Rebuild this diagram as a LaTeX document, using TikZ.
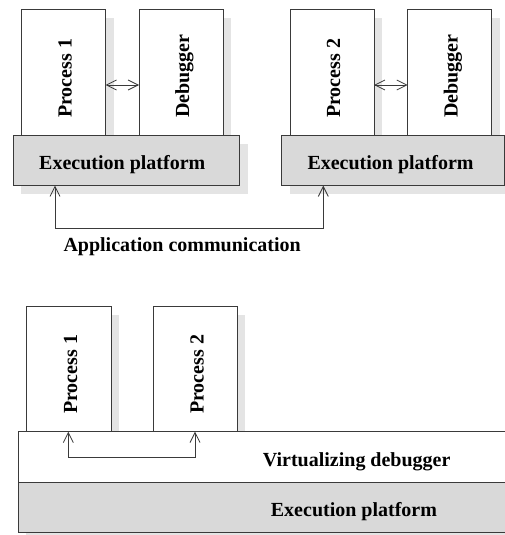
\documentclass[tikz,border=0pt]{standalone}
\usepackage{fontspec}
\setmainfont{Liberation Serif}
\usetikzlibrary{arrows.meta,shadows}
\definecolor{shadowc}{HTML}{E4E4E4}
\definecolor{platc}{HTML}{D9D9D9}
\definecolor{linec}{HTML}{3A3A3A}
\begin{document}
\begin{tikzpicture}[x=1pt,y=-1pt,
  boxbase/.style={draw=linec,line width=0.8pt,rectangle,inner sep=0pt,outer sep=0pt,
    drop shadow={shadow xshift=8pt,shadow yshift=-8.5pt,opacity=1,fill=shadowc,draw=none}},
  procbox/.style={boxbase,fill=white,minimum width=84pt,minimum height=125.7pt,anchor=south west},
  platbox/.style={boxbase,fill=platc,minimum height=50.6pt,anchor=north west},
  virtbox/.style={boxbase,fill=white,minimum height=50.6pt,anchor=north west},
  lbl/.style={font=\fontsize{20}{24}\selectfont\bfseries,inner sep=0pt,anchor=base west},
  vlbl/.style={lbl,rotate=90},
  conn/.style={draw=linec,line width=0.8pt,{Straight Barb[length=10pt,width=10pt]}-{Straight Barb[length=10pt,width=10pt]}}
]
\useasboundingbox (0,0) rectangle (505,535);
\clip (0,0) rectangle (505,535);

% ---------- top part ----------
\node[procbox] (p1) at (21.7,135) {};
\node[procbox] (d1) at (139,135) {};
\node[procbox] (p2) at (290,135) {};
\node[procbox] (d2) at (407.7,135) {};
\node[platbox,minimum width=226.7pt] (ex1) at (13,135) {};
\node[platbox,minimum width=222.3pt] (ex2) at (281.7,135) {};

\node[vlbl] (t1) at (71.5,118) {Process 1};
\node[vlbl] (t2) at (189,118) {Debugger};
\node[vlbl] (t3) at (340,118) {Process 2};
\node[vlbl] (t4) at (457.5,118) {Debugger};
\node[lbl] (t5) at (39,169) {Execution platform};
\node[lbl] (t6) at (307.3,169) {Execution platform};
\node[lbl] (t7) at (63.3,251.7) {Application communication};

\draw[conn] ([yshift=-12.85pt]p1.east) -- ([yshift=-12.85pt]d1.west);
\draw[conn] ([yshift=-12.85pt]p2.east) -- ([yshift=-12.85pt]d2.west);

\coordinate (c1) at (55,228.3);
\coordinate (c2) at (323.3,228.3);
\draw[conn] (ex1.south -| c1) -- (c1) -- (c2) -- (ex2.south -| c2);

% ---------- bottom part ----------
\node[procbox,minimum width=84.3pt] (p1b) at (26.7,431.7) {};
\node[procbox,minimum width=84.3pt] (p2b) at (153,431.7) {};
\node[virtbox,minimum width=510pt] (vd) at (18.3,431.7) {};
\node[platbox,minimum width=510pt,minimum height=50.4pt] (ep) at (18.3,482.3) {};

\node[vlbl] (t8) at (77,414) {Process 1};
\node[vlbl] (t9) at (203.5,414) {Process 2};
\node[lbl] (t10) at (262.7,466.5) {Virtualizing debugger};
\node[lbl] (t11) at (270.7,516.5) {Execution platform};

\coordinate (c3) at (68.3,457.3);
\coordinate (c4) at (195,457.3);
\draw[conn] (vd.north -| c3) -- (c3) -- (c4) -- (vd.north -| c4);
\end{tikzpicture}
\end{document}
